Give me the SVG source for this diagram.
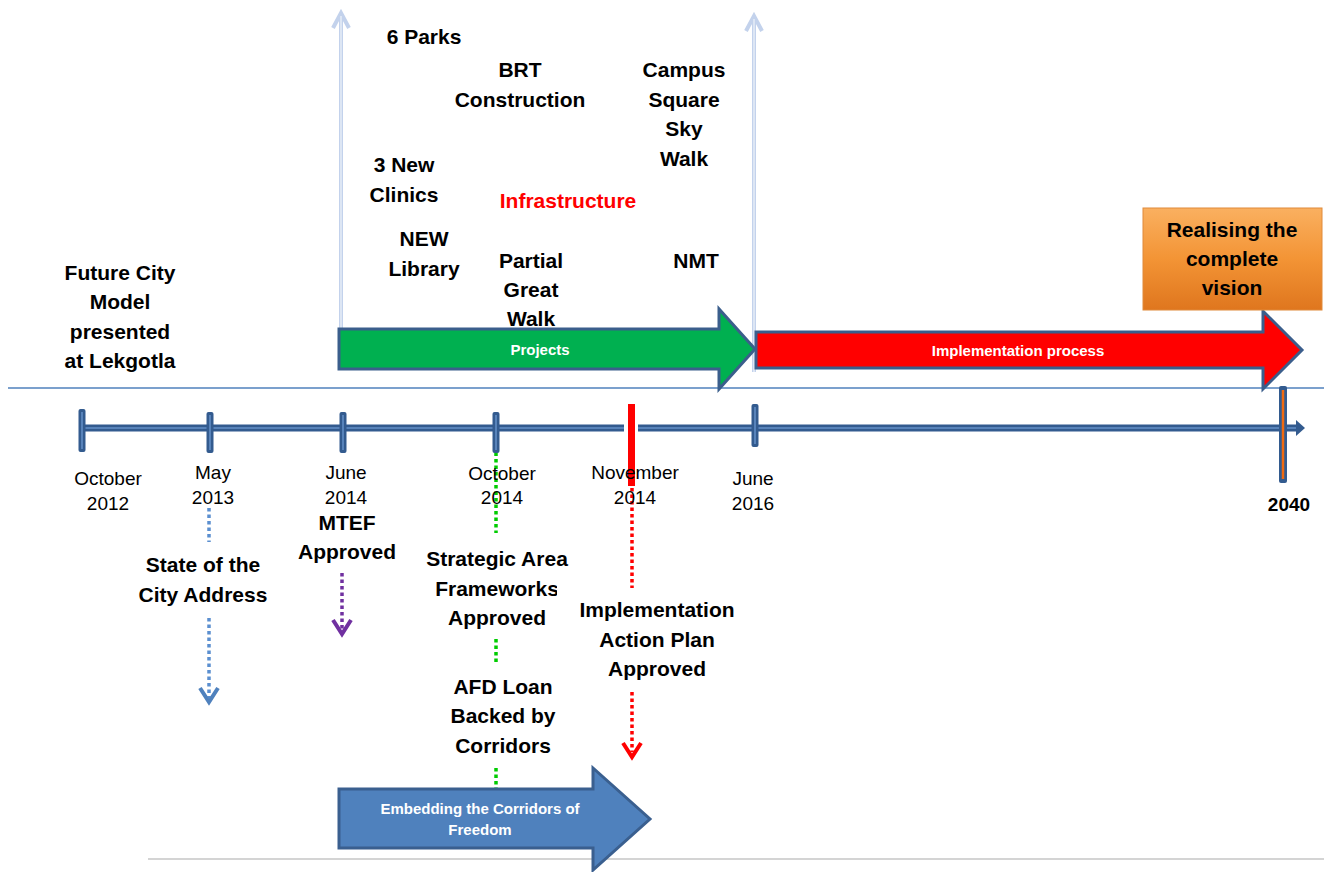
<svg xmlns="http://www.w3.org/2000/svg" width="1324" height="872" viewBox="0 0 1324 872">
<style>
.b{font-family:"Liberation Sans",Arial,sans-serif;font-weight:bold;font-size:21px;fill:#000;text-anchor:middle}
.d{font-family:"Liberation Sans",Arial,sans-serif;font-size:19px;fill:#000;text-anchor:middle}
.w{font-family:"Liberation Sans",Arial,sans-serif;font-weight:bold;font-size:15px;fill:#fff;text-anchor:middle}
.tick{fill:#335b8f}
.tin{stroke:#6690c8;stroke-width:1.5}
.dot{fill:none;stroke-width:3.5;stroke-dasharray:3.5 3}
.chev{fill:none;stroke-width:4}
.va{fill:none;stroke:#c3d2ec;stroke-width:4}
.vi{fill:none;stroke:#eef3fa;stroke-width:1.2}
.arr{stroke:#3b5e8c;stroke-width:3;stroke-linejoin:miter}
</style>
<defs>
<linearGradient id="og" x1="0" y1="0" x2="0" y2="1">
<stop offset="0" stop-color="#fab060"/>
<stop offset="0.5" stop-color="#f39435"/>
<stop offset="1" stop-color="#df761e"/>
</linearGradient>
<clipPath id="fwclip"><rect x="400" y="575" width="157" height="30"/></clipPath>
</defs>
<rect width="1324" height="872" fill="#fff"/>

<g id="guides">
<line x1="8" y1="388" x2="1324" y2="388" stroke="#4f81bd" stroke-width="1.5"/>
<line x1="148" y1="859" x2="1324" y2="859" stroke="#d4d4d4" stroke-width="2"/>
</g>

<g id="connectors">
<!-- light vertical arrows -->
<path class="va" d="M341,350 L341,13 M333,28 L341,13 L349,28"/>
<path class="vi" d="M341,350 L341,16"/>
<path class="va" d="M754,372 L754,16 M746,31 L754,16 L762,31"/>
<path class="vi" d="M754,372 L754,19"/>
<!-- dotted connectors -->
<path class="dot" stroke="#5b8fd0" d="M209,508 L209,542 M209,618 L209,698"/>
<path class="chev" stroke="#4f81bd" d="M200,688 L209,702 L218,688"/>
<path class="dot" stroke="#7030a0" d="M342,573 L342,630"/>
<path class="chev" stroke="#7030a0" d="M333,620 L342,634 L351,620"/>
<path class="dot" stroke="#00cc00" d="M496,446 L496,533 M496,639 L496,663 M496,768 L496,790"/>
<path class="dot" stroke="#ff0000" d="M632,488 L632,588 M632,692 L632,752"/>
<path class="chev" stroke="#ff0000" d="M623,743 L632,757 L641,743"/>
</g>

<g id="timeline">
<line x1="82" y1="428" x2="624" y2="428" stroke="#335b8f" stroke-width="7"/>
<line x1="638" y1="428" x2="1297" y2="428" stroke="#335b8f" stroke-width="7"/>
<line x1="82" y1="428" x2="624" y2="428" stroke="#6690c8" stroke-width="1.5"/>
<line x1="638" y1="428" x2="1297" y2="428" stroke="#6690c8" stroke-width="1.5"/>
<path d="M1296,420 L1305,428 L1296,436 Z" fill="#335b8f"/>
<rect class="tick" x="78.5" y="409" width="7" height="43" rx="2"/>
<line class="tin" x1="82" y1="412" x2="82" y2="449"/>
<rect class="tick" x="206.5" y="412" width="7" height="41" rx="2"/>
<line class="tin" x1="210" y1="415" x2="210" y2="450"/>
<rect class="tick" x="339.5" y="412" width="7" height="41" rx="2"/>
<line class="tin" x1="343" y1="415" x2="343" y2="450"/>
<rect class="tick" x="492.5" y="412" width="7" height="41" rx="2"/>
<line class="tin" x1="496" y1="415" x2="496" y2="450"/>
<rect class="tick" x="751.5" y="404" width="7" height="43" rx="2"/>
<line class="tin" x1="755" y1="407" x2="755" y2="444"/>
<rect x="628" y="404" width="7" height="82" fill="#ff0000"/>
<rect class="tick" x="1279" y="386" width="8" height="97" rx="2"/>
<line x1="1283" y1="390" x2="1283" y2="479" stroke="#f06a10" stroke-width="2.5"/>
</g>

<g id="dates">
<text class="d" x="108" y="485">October</text><text class="d" x="108" y="510">2012</text>
<text class="d" x="213" y="479">May</text><text class="d" x="213" y="504">2013</text>
<text class="d" x="346" y="479">June</text><text class="d" x="346" y="504">2014</text>
<text class="d" x="502" y="480">October</text><text class="d" x="502" y="504">2014</text>
<text class="d" x="635" y="479">November</text><text class="d" x="635" y="504">2014</text>
<text class="d" x="753" y="485">June</text><text class="d" x="753" y="510">2016</text>
<text class="b" x="1289" y="511" style="font-size:19px">2040</text>
</g>

<g id="projects-arrow">
<path class="arr" fill="#00b050" d="M339,329 L719,329 L719,309 L755,349 L719,389 L719,369 L339,369 Z"/>
<text class="w" x="540" y="355">Projects</text>
</g>

<g id="implementation-arrow">
<path class="arr" fill="#ff0000" d="M756,332 L1263,332 L1263,311 L1302,350 L1263,389 L1263,368 L756,368 Z"/>
<text class="w" x="1018" y="356">Implementation process</text>
</g>

<g id="vision-box">
<rect x="1143" y="208" width="179" height="102" fill="url(#og)" stroke="#e08a3a" stroke-width="1"/>
<text class="b" x="1232" y="237">Realising the</text>
<text class="b" x="1232" y="266">complete</text>
<text class="b" x="1232" y="295">vision</text>
</g>

<g id="corridors-arrow">
<path d="M339,789 L593,789 L593,768 L650,819 L593,870 L593,848 L339,848 Z" fill="#4f81bd" stroke="#3a5f8f" stroke-width="3"/>
<text class="w" x="480" y="814">Embedding the Corridors of</text>
<text class="w" x="480" y="835">Freedom</text>
</g>

<g id="future-city">
<text class="b" x="120" y="280">Future City</text>
<text class="b" x="120" y="309">Model</text>
<text class="b" x="120" y="339">presented</text>
<text class="b" x="120" y="368">at Lekgotla</text>
</g>

<g id="infra-items">
<text class="b" x="424" y="44">6 Parks</text>
<text class="b" x="520" y="77">BRT</text>
<text class="b" x="520" y="107">Construction</text>
<text class="b" x="684" y="77">Campus</text>
<text class="b" x="684" y="107">Square</text>
<text class="b" x="684" y="136">Sky</text>
<text class="b" x="684" y="166">Walk</text>
<text class="b" x="404" y="172">3 New</text>
<text class="b" x="404" y="202">Clinics</text>
<text class="b" x="568" y="208" fill="#ff0000" style="fill:#ff0000">Infrastructure</text>
<text class="b" x="424" y="246">NEW</text>
<text class="b" x="424" y="276">Library</text>
<text class="b" x="531" y="268">Partial</text>
<text class="b" x="531" y="297">Great</text>
<text class="b" x="531" y="326">Walk</text>
<text class="b" x="696" y="268">NMT</text>
</g>

<g id="state-city">
<text class="b" x="203" y="572">State of the</text>
<text class="b" x="203" y="602">City Address</text>
</g>
<g id="mtef">
<text class="b" x="347" y="530">MTEF</text>
<text class="b" x="347" y="559">Approved</text>
</g>
<g id="strategic">
<text class="b" x="497" y="566">Strategic Area</text>
<text class="b" x="497" y="596" clip-path="url(#fwclip)">Frameworks</text>
<text class="b" x="497" y="625">Approved</text>
</g>
<g id="afd">
<text class="b" x="503" y="694">AFD Loan</text>
<text class="b" x="503" y="723">Backed by</text>
<text class="b" x="503" y="753">Corridors</text>
</g>
<g id="iap">
<text class="b" x="657" y="617">Implementation</text>
<text class="b" x="657" y="647">Action Plan</text>
<text class="b" x="657" y="676">Approved</text>
</g>
</svg>
